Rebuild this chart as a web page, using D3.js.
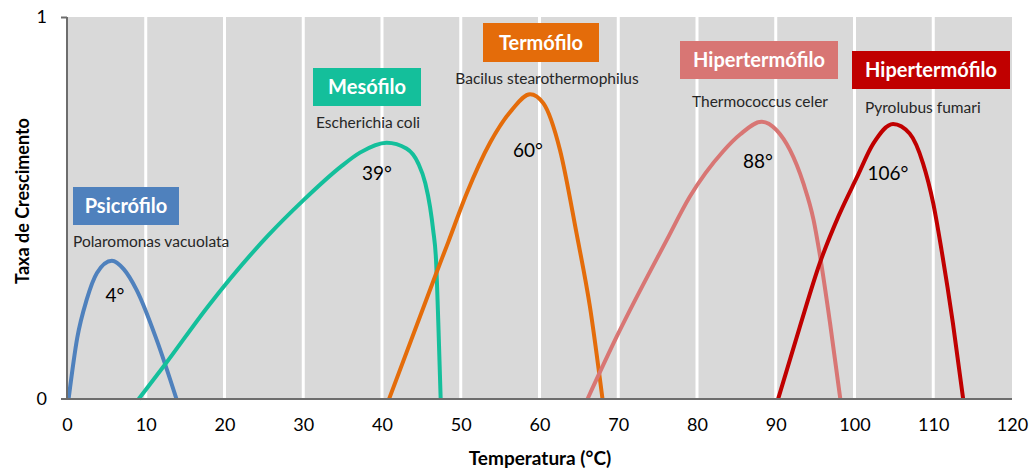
<!DOCTYPE html>
<html>
<head>
<meta charset="utf-8">
<script src="https://cdn.jsdelivr.net/npm/d3@7"></script>
<style>
  body { margin: 0; background: #fff; }
  text { font-family: Lato, "Open Sans", sans-serif; }
</style>
</head>
<body>
<div id="chart"></div>
<script>
const width = 1035;
const height = 471;

// growth curves, [temperature, rate]
const psicrofilo = [[0.2, 0], [1.3, 0.16], [2.5, 0.26], [3.8, 0.33], [5.7, 0.362], [7.2, 0.34], [8.85, 0.285], [11.4, 0.154], [13.9, 0]];
const mesofilo = [[9.1, 0], [12.4, 0.089], [18, 0.245], [25.4, 0.425], [30.0, 0.52], [34.7, 0.607], [37.2, 0.645], [40.6, 0.671], [43.1, 0.656], [44.6, 0.617], [45.5, 0.565], [46.1, 0.503], [46.5, 0.442], [46.86, 0.364], [47.15, 0.2], [47.45, 0]];
const termofilo = [[40.9, 0], [46.9, 0.33], [48.4, 0.41], [50.75, 0.538], [53.7, 0.67], [56.5, 0.757], [58.8, 0.798], [60.5, 0.774], [62.6, 0.652], [64.7, 0.434], [66.4, 0.242], [68.0, 0]];
const hiper1 = [[66.1, 0], [69.8, 0.163], [76.15, 0.416], [79.1, 0.53], [83.3, 0.648], [85.5, 0.693], [88.2, 0.726], [90.1, 0.704], [91.8, 0.652], [93.5, 0.565], [94.8, 0.469], [95.5, 0.39], [96.9, 0.198], [98.2, 0]];
const hiper2 = [[90.3, 0], [93.0, 0.185], [95.6, 0.356], [98.0, 0.48], [100.3, 0.58], [102.4, 0.669], [104.9, 0.72], [107.0, 0.695], [108.7, 0.617], [110.0, 0.512], [111.05, 0.39], [112.5, 0.198], [113.8, 0]];

const seriesData = [psicrofilo, mesofilo, termofilo, hiper1, hiper2];
const seriesColors = ['#4f81bd', '#14bf9b', '#e46c0a', '#d87674', '#c00000'];

const groupNames = ['Psicrófilo', 'Mesófilo', 'Termófilo', 'Hipertermófilo', 'Hipertermófilo'];
const species = ['Polaromonas vacuolata', 'Escherichia coli', 'Bacilus stearothermophilus', 'Thermococcus celer', 'Pyrolubus fumari'];
const optimum = ['4°', '39°', '60°', '88°', '106°'];

const xTicks = [0, 10, 20, 30, 40, 50, 60, 70, 80, 90, 100, 110, 120];
const yTicks = [0, 1];

const margin = { left: 67, right: 23, top: 17, bottom: 72 };

const svg = d3.select('#chart')
  .append('svg')
  .attr('width', width)
  .attr('height', height);

const xScale = d3.scaleLinear()
  .domain([0, 120])
  .range([margin.left, width - margin.right]);

const yScale = d3.scaleLinear()
  .domain([0, 1])
  .range([height - margin.bottom, margin.top]);

// plot background
svg.append('rect')
  .attr('x', xScale(0))
  .attr('y', yScale(1))
  .attr('width', xScale(120) - xScale(0))
  .attr('height', yScale(0) - yScale(1))
  .style('fill', '#d9d9d9');

// white vertical gridlines
svg.selectAll('.grid')
  .data(xTicks.filter(d => d > 0 && d < 120))
  .enter()
  .append('line')
  .attr('class', 'grid')
  .attr('x1', d => xScale(d))
  .attr('x2', d => xScale(d))
  .attr('y1', yScale(1))
  .attr('y2', yScale(0))
  .style('stroke', '#fff')
  .style('stroke-width', 3);

// label boxes (placed per series)
const boxes = [
  { x: 73, y: 187, w: 106, h: 38, sx: 73, sy: 247, anchor: 'start', ox: 115, oy: 302 },
  { x: 313, y: 68, w: 108, h: 38, sx: 316, sy: 128, anchor: 'start', ox: 377, oy: 180 },
  { x: 483, y: 23, w: 116, h: 39, sx: 547, sy: 84, anchor: 'middle', ox: 528, oy: 157 },
  { x: 680, y: 41, w: 158, h: 38, sx: 692, sy: 107, anchor: 'start', ox: 758, oy: 168 },
  { x: 852, y: 51, w: 158, h: 38, sx: 865, sy: 113, anchor: 'start', ox: 888, oy: 180 }
];

const line = d3.line()
  .x(d => xScale(d[0]))
  .y(d => yScale(d[1]))
  .curve(d3.curveMonotoneX);

svg.selectAll('.curve')
  .data(seriesData)
  .enter()
  .append('path')
  .attr('class', 'curve')
  .attr('d', line)
  .style('fill', 'none')
  .style('stroke', (d, i) => seriesColors[i])
  .style('stroke-width', 4);

// axes
const xAxis = d3.axisBottom(xScale).tickValues(xTicks).tickSize(0).tickPadding(19);
const yAxis = d3.axisLeft(yScale).tickValues(yTicks).tickSize(6).tickFormat(d3.format('d')).tickPadding(14);

const gx = svg.append('g')
  .attr('transform', 'translate(0,' + yScale(0) + ')')
  .call(xAxis);
gx.select('.domain').attr('d', 'M' + (xScale(0) - 6) + ',0H' + xScale(120)).style('stroke', '#6d6d6d').style('stroke-width', 2);
gx.selectAll('text').style('font-size', '18px').style('fill', '#000');

const gy = svg.append('g')
  .attr('transform', 'translate(' + xScale(0) + ',0)')
  .call(yAxis);
gy.select('.domain').attr('d', 'M0,' + yScale(1) + 'V' + yScale(0)).style('stroke', '#6d6d6d').style('stroke-width', 2);
gy.selectAll('.tick line').style('stroke', '#6d6d6d').style('stroke-width', 2);
gy.selectAll('.tick').filter(d => d === 0).select('line').remove();
gy.selectAll('text').style('font-size', '18px').style('fill', '#000');

// axis titles
svg.append('text')
  .text('Temperatura (°C)')
  .attr('x', 540)
  .attr('y', 465)
  .attr('text-anchor', 'middle')
  .style('font-size', '19px')
  .style('font-weight', 'bold');

svg.append('text')
  .text('Taxa de Crescimento')
  .attr('transform', 'translate(29,201) rotate(-90)')
  .attr('text-anchor', 'middle')
  .style('font-size', '18px')
  .style('font-weight', 'bold');

// series annotations
boxes.forEach((b, i) => {
  svg.append('rect')
    .attr('x', b.x)
    .attr('y', b.y)
    .attr('width', b.w)
    .attr('height', b.h)
    .style('fill', seriesColors[i]);

  svg.append('text')
    .text(groupNames[i])
    .attr('x', b.x + b.w / 2)
    .attr('y', b.y + b.h / 2 + 7)
    .attr('text-anchor', 'middle')
    .style('font-size', '20px')
    .style('font-weight', 'bold')
    .style('fill', '#fff');

  svg.append('text')
    .text(species[i])
    .attr('x', b.sx)
    .attr('y', b.sy)
    .attr('text-anchor', b.anchor)
    .style('font-size', '15.5px')
    .style('fill', '#262626');

  svg.append('text')
    .text(optimum[i])
    .attr('x', b.ox)
    .attr('y', b.oy)
    .attr('text-anchor', 'middle')
    .style('font-size', '19px')
    .style('fill', '#000');
});
</script>
</body>
</html>
